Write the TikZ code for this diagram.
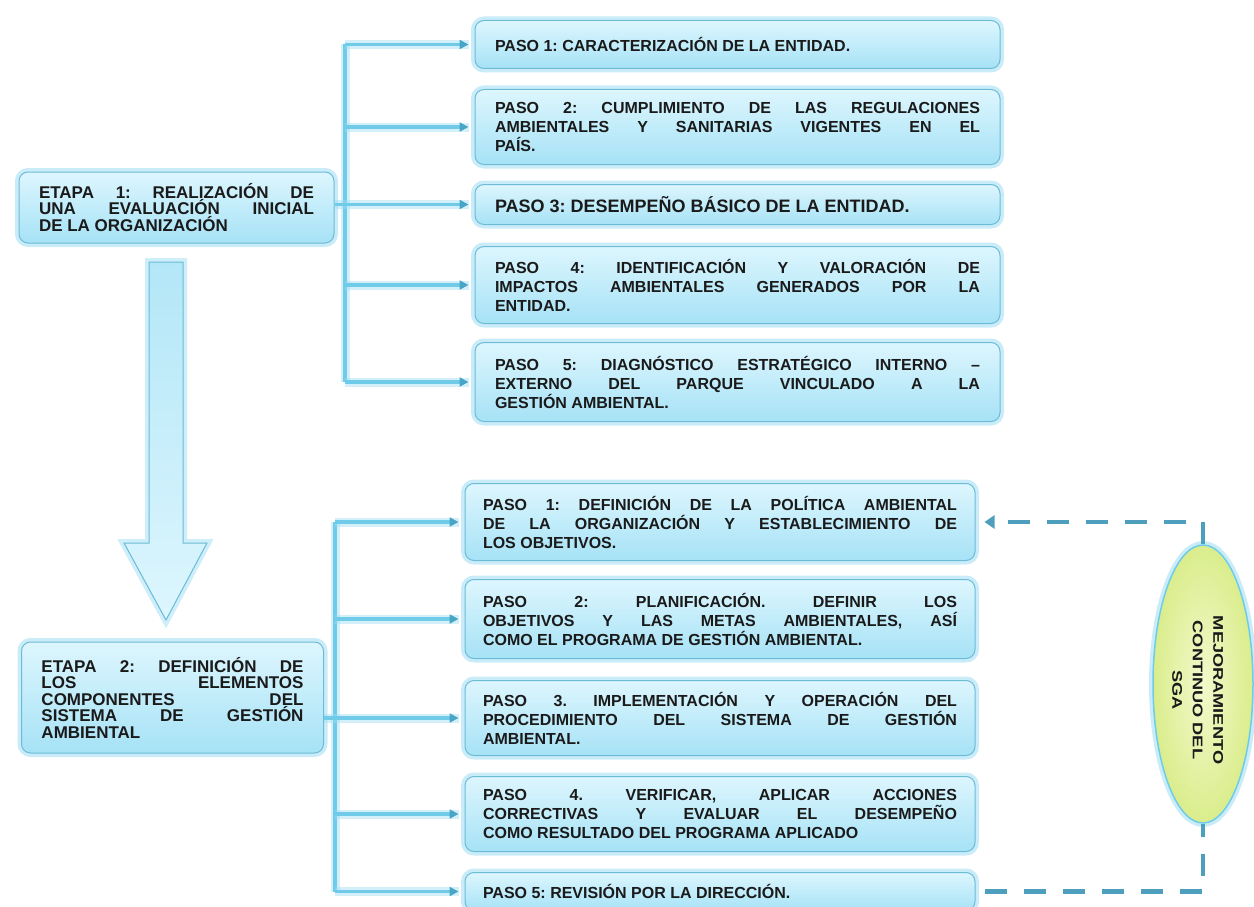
\documentclass[tikz,border=0pt]{standalone}
\usepackage{fontspec}
\setmainfont{Liberation Sans}
\usetikzlibrary{positioning,arrows.meta,shapes.geometric}

\definecolor{cajasup}{HTML}{DDF6FE}
\definecolor{cajainf}{HTML}{A6E2F6}
\definecolor{borde}{HTML}{6DBBD6}
\definecolor{halo}{HTML}{9EDDF3}
\definecolor{ramac}{HTML}{6FCBE8}
\definecolor{punta}{HTML}{48A5C6}
\definecolor{lazoc}{HTML}{4E9EBD}
\definecolor{elipin}{HTML}{F3F9CC}
\definecolor{elipout}{HTML}{DAED8C}
\definecolor{letra}{HTML}{1A1A1A}

\newcommand\tensar{\frenchspacing\tolerance=10000\relax\hbadness=10000\relax\hyphenpenalty=10000\relax}

\tikzset{
  caja/.style={rectangle, rounded corners=9pt, draw=borde, line width=1pt,
    top color=cajasup, bottom color=cajainf, text=letra,
    preaction={draw=halo, line width=8pt, draw opacity=0.55},
    align=justify, inner ysep=4pt,
    font=\fontsize{16}{19}\selectfont\bfseries\tensar},
  pasoA/.style={caja, text width=485pt, inner xsep=20pt},
  pasoB/.style={caja, text width=474pt, inner xsep=18pt},
  etapa/.style={caja, inner xsep=20pt,
    font=\fontsize{17}{16.5}\selectfont\bfseries\tensar},
  rama/.style={draw=ramac, line width=3.5pt,
    preaction={draw=halo, line width=9pt, draw opacity=0.45, arrows=-}},
  ramaflecha/.style={rama, -{Triangle[width=9pt,length=9pt,color=punta]}, shorten >=6pt},
  lazo/.style={draw=lazoc, line width=4.5pt, dash pattern=on 22pt off 17pt},
  mejora/.style={ellipse, draw=ramac, line width=1.5pt, inner color=elipin, outer color=elipout,
    preaction={draw=halo, line width=8pt, draw opacity=0.55},
    minimum width=100pt, minimum height=278pt, inner sep=0pt},
  flecha/.style={draw=borde, line width=1pt, top color=cajainf!85, bottom color=cajasup,
    preaction={draw=halo, line width=8pt, draw opacity=0.5}}
}

\begin{document}
\begin{tikzpicture}[x=1pt,y=1pt]
  \useasboundingbox (0,0) rectangle (1254,-907);

  % etapa 1
  \node[etapa, text width=275pt, minimum height=71pt] (etapaA) at (176.5,-207.5)
    {ETAPA 1: REALIZACIÓN DE\linebreak UNA EVALUACIÓN INICIAL\linebreak DE LA ORGANIZACIÓN};
  \node[pasoA, anchor=north, minimum height=48pt] (pA1) at (737.5,-20)
    {PASO 1: CARACTERIZACIÓN DE LA ENTIDAD.};
  \node[pasoA, below=20pt of pA1, minimum height=75pt] (pA2)
    {PASO 2: CUMPLIMIENTO DE LAS REGULACIONES\linebreak AMBIENTALES Y SANITARIAS VIGENTES EN EL\linebreak PAÍS.};
  \node[pasoA, below=19pt of pA2, minimum height=40pt, font=\fontsize{18}{19}\selectfont\bfseries\tensar] (pA3)
    {PASO 3: DESEMPEÑO BÁSICO DE LA ENTIDAD.};
  \node[pasoA, below=21pt of pA3, minimum height=77pt] (pA4)
    {PASO 4: IDENTIFICACIÓN Y VALORACIÓN DE\linebreak IMPACTOS AMBIENTALES GENERADOS POR LA\linebreak ENTIDAD.};
  \node[pasoA, below=18pt of pA4, minimum height=79pt] (pA5)
    {PASO 5: DIAGNÓSTICO ESTRATÉGICO INTERNO –\linebreak EXTERNO DEL PARQUE VINCULADO A LA\linebreak GESTIÓN AMBIENTAL.};

  % etapa 2
  \node[etapa, text width=262pt, minimum height=111pt] (etapaB) at (172.5,-697.5)
    {ETAPA 2: DEFINICIÓN DE\linebreak LOS ELEMENTOS\linebreak COMPONENTES DEL\linebreak SISTEMA DE GESTIÓN\linebreak AMBIENTAL};
  \node[pasoB, anchor=north, minimum height=77pt] (pB1) at (720,-483)
    {PASO 1: DEFINICIÓN DE LA POLÍTICA AMBIENTAL\linebreak DE LA ORGANIZACIÓN Y ESTABLECIMIENTO DE\linebreak LOS OBJETIVOS.};
  \node[pasoB, below=18pt of pB1, minimum height=79pt] (pB2)
    {PASO 2: PLANIFICACIÓN. DEFINIR LOS\linebreak OBJETIVOS Y LAS METAS AMBIENTALES, ASÍ\linebreak COMO EL PROGRAMA DE GESTIÓN AMBIENTAL.};
  \node[pasoB, below=21pt of pB2, minimum height=75pt] (pB3)
    {PASO 3. IMPLEMENTACIÓN Y OPERACIÓN DEL\linebreak PROCEDIMIENTO DEL SISTEMA DE GESTIÓN\linebreak AMBIENTAL.};
  \node[pasoB, below=20pt of pB3, minimum height=75pt] (pB4)
    {PASO 4. VERIFICAR, APLICAR ACCIONES\linebreak CORRECTIVAS Y EVALUAR EL DESEMPEÑO\linebreak COMO RESULTADO DEL PROGRAMA APLICADO};
  \node[pasoB, below=20pt of pB4, minimum height=38pt] (pB5)
    {PASO 5: REVISIÓN POR LA DIRECCIÓN.};

  % llaves
  \coordinate (brA) at (345,0);
  \coordinate (brB) at (335,0);
  \draw[rama] (brA |- pA1) -- (brA |- pA5);
  \draw[rama] (etapaA.east |- pA3) -- (brA |- pA3);
  \foreach \p in {pA1,pA2,pA3,pA4,pA5}
    \draw[ramaflecha] (brA |- \p) -- (\p.west);
  \draw[rama] (brB |- pB1) -- (brB |- pB5);
  \draw[rama] (etapaB.east |- pB3) -- (brB |- pB3);
  \foreach \p in {pB1,pB2,pB3,pB4,pB5}
    \draw[ramaflecha] (brB |- \p) -- (\p.west);

  % flecha grande
  \draw[flecha] (149,-262) -- (183,-262) -- (183,-543) -- (207,-543) -- (166,-620)
    -- (124,-543) -- (149,-543) -- cycle;

  % mejoramiento continuo
  \node[mejora] (mejora) at (1203,-684) {};
  \node[rotate=-90, text=letra, inner sep=0pt, font=\fontsize{14}{20.5}\selectfont\bfseries]
    (lema) at (1197,-690)
    {\scalebox{1.3}[1]{\begin{tabular}{@{}c@{}}MEJORAMIENTO\\CONTINUO DEL\\SGA\end{tabular}}};
  \draw[lazo, -{Triangle[width=13pt,length=10pt]}, shorten >=9pt] (mejora.north) |- (pB1.east);
  \draw[lazo, shorten <=9pt] (pB5.east) -| (mejora.south);
\end{tikzpicture}
\end{document}
